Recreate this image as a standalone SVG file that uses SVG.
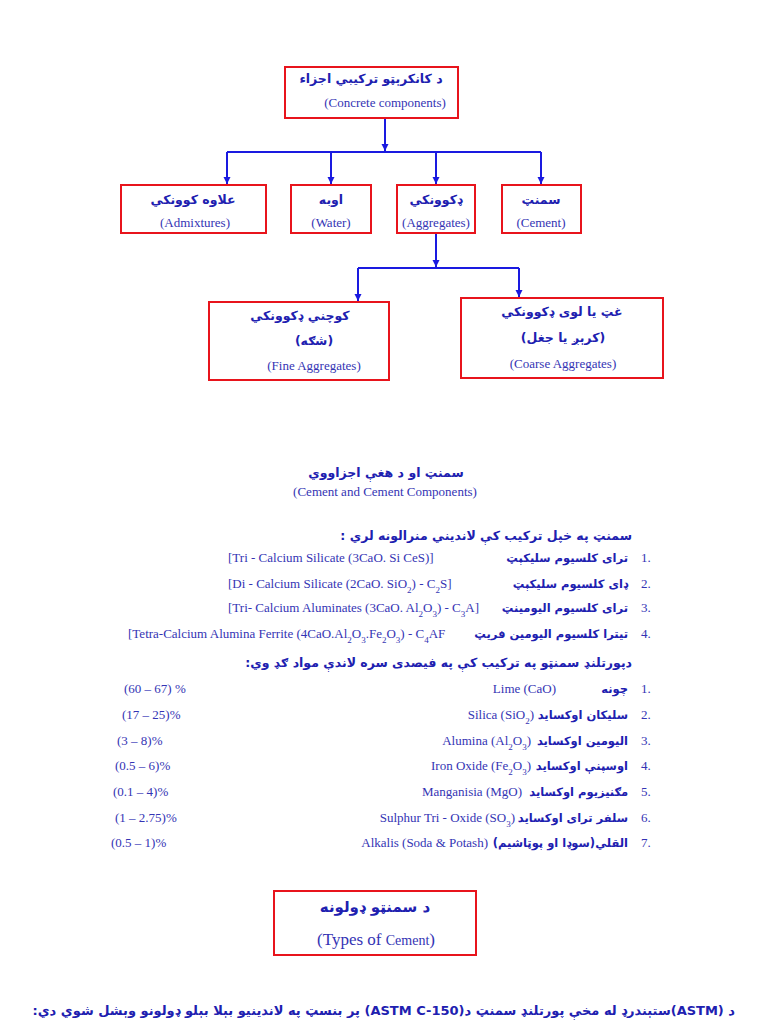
<svg xmlns="http://www.w3.org/2000/svg" width="768" height="1024" viewBox="0 0 768 1024">
<style>
.box{fill:#fff;stroke:#e8141c;stroke-width:2}
.con{fill:none;stroke:#1a1ae0;stroke-width:2}
.en{font-family:"Liberation Serif","Times New Roman",serif;font-size:13px;fill:#3434b4}
.ps{font-family:"DejaVu Sans",sans-serif;font-size:12.5px;font-weight:bold;fill:#2020b0}
.li{font-size:11.5px}
.c{text-anchor:middle}
.e{text-anchor:end}
.r{direction:rtl;unicode-bidi:embed;text-anchor:start}
.sub{font-size:9px;baseline-shift:sub}
</style>
<defs>
<marker id="ah" markerWidth="8" markerHeight="8" refX="7" refY="4" orient="auto" markerUnits="userSpaceOnUse">
<path d="M0,0.5 L7,4 L0,7.5 z" fill="#1a1ae0"/>
</marker>
</defs>
<rect width="768" height="1024" fill="#fff"/>

<g id="connectors">
<path class="con" d="M385,119 V151" marker-end="url(#ah)"/>
<path class="con" d="M227,152 H541"/>
<path class="con" d="M227,152 V184" marker-end="url(#ah)"/>
<path class="con" d="M331,152 V184" marker-end="url(#ah)"/>
<path class="con" d="M436,152 V184" marker-end="url(#ah)"/>
<path class="con" d="M541,152 V184" marker-end="url(#ah)"/>
<path class="con" d="M436,234 V267" marker-end="url(#ah)"/>
<path class="con" d="M358,268 H519"/>
<path class="con" d="M358,268 V301" marker-end="url(#ah)"/>
<path class="con" d="M519,268 V297" marker-end="url(#ah)"/>
</g>

<g id="concrete">
<rect class="box" x="285" y="67" width="173" height="51"/>
<text class="ps c" x="371" y="83">د کانکرېټو ترکیبي اجزاء</text>
<text class="en c" x="385" y="107">(Concrete components)</text>
</g>

<g id="admixtures">
<rect class="box" x="121" y="185" width="145" height="48"/>
<text class="ps c" x="193" y="204">علاوه کوونکي</text>
<text class="en c" x="195" y="227">(Admixtures)</text>
</g>
<g id="water">
<rect class="box" x="291" y="185" width="80" height="48"/>
<text class="ps c" x="331" y="204">اوبه</text>
<text class="en c" x="331" y="227">(Water)</text>
</g>
<g id="aggregates">
<rect class="box" x="397" y="185" width="78" height="48"/>
<text class="ps c" x="436" y="204">ډکوونکي</text>
<text class="en c" x="436" y="227">(Aggregates)</text>
</g>
<g id="cement">
<rect class="box" x="502" y="185" width="79" height="48"/>
<text class="ps c" x="541" y="204">سمنټ</text>
<text class="en c" x="541" y="227">(Cement)</text>
</g>

<g id="fine">
<rect class="box" x="209" y="302" width="180" height="78"/>
<text class="ps c" x="300" y="320">کوچني ډکوونکي</text>
<text class="ps c" x="314" y="345" direction="rtl">(شګه)</text>
<text class="en c" x="314" y="370">(Fine Aggregates)</text>
</g>
<g id="coarse">
<rect class="box" x="461" y="298" width="202" height="80"/>
<text class="ps c" x="562" y="316">غټ یا لوی ډکوونکي</text>
<text class="ps c" x="563" y="342" direction="rtl">(کرېږ یا جغل)</text>
<text class="en c" x="563" y="368">(Coarse Aggregates)</text>
</g>

<g id="heading">
<text class="ps c" x="386" y="477">سمنټ او د هغې اجزاووي</text>
<text class="en c" x="385" y="496">(Cement and Cement Components)</text>
</g>

<g id="list1">
<text class="ps r" x="632" y="540">سمنټ په خپل ترکیب کې لاندیني منرالونه لري :</text>
<text class="en" x="641" y="562">1.</text>
<text class="ps li r" x="628" y="562">ترای کلسیوم سلیکېټ</text>
<text class="en" x="228" y="562">[Tri - Calcium Silicate (3CaO. Si CeS)]</text>
<text class="en" x="641" y="588">2.</text>
<text class="ps li r" x="628" y="588">ډای کلسیوم سلیکېټ</text>
<text class="en" x="228" y="588">[Di - Calcium Silicate (2CaO. SiO<tspan class="sub">2</tspan>) - C<tspan class="sub">2</tspan>S]</text>
<text class="en" x="641" y="612">3.</text>
<text class="ps li r" x="628" y="612">ترای کلسیوم الیومینټ</text>
<text class="en" x="228" y="612">[Tri- Calcium Aluminates (3CaO. Al<tspan class="sub">2</tspan>O<tspan class="sub">3</tspan>) - C<tspan class="sub">3</tspan>A]</text>
<text class="en" x="641" y="638">4.</text>
<text class="ps li r" x="628" y="638">تیترا کلسیوم الیومین فریټ</text>
<text class="en" x="128" y="638">[Tetra-Calcium Alumina Ferrite (4CaO.Al<tspan class="sub">2</tspan>O<tspan class="sub">3</tspan>.Fe<tspan class="sub">2</tspan>O<tspan class="sub">3</tspan>) - C<tspan class="sub">4</tspan>AF</text>
</g>

<g id="list2">
<text class="ps r" x="632" y="667">دپورتلنډ سمنټو په ترکیب کې په فیصدی سره لاندې مواد ګډ وي:</text>
<text class="en" x="641" y="693">1.</text>
<text class="ps li r" x="628" y="693">چونه</text>
<text class="en e" x="556" y="693">Lime (CaO)</text>
<text class="en" x="124" y="693">(60 – 67) %</text>
<text class="en" x="641" y="719">2.</text>
<text class="ps li r" x="628" y="719">سلیکان اوکساید</text>
<text class="en e" x="534" y="719">Silica (SiO<tspan class="sub">2</tspan>)</text>
<text class="en" x="122" y="719">(17 – 25)%</text>
<text class="en" x="641" y="745">3.</text>
<text class="ps li r" x="628" y="745">الیومین اوکساید</text>
<text class="en e" x="531" y="745">Alumina (Al<tspan class="sub">2</tspan>O<tspan class="sub">3</tspan>)</text>
<text class="en" x="117" y="745">(3 – 8)%</text>
<text class="en" x="641" y="770">4.</text>
<text class="ps li r" x="628" y="770">اوسپنې اوکساید</text>
<text class="en e" x="531" y="770">Iron Oxide (Fe<tspan class="sub">2</tspan>O<tspan class="sub">3</tspan>)</text>
<text class="en" x="115" y="770">(0.5 – 6)%</text>
<text class="en" x="641" y="796">5.</text>
<text class="ps li r" x="628" y="796">مګنیزیوم اوکساید</text>
<text class="en e" x="522" y="796">Manganisia (MgO)</text>
<text class="en" x="113" y="796">(0.1 – 4)%</text>
<text class="en" x="641" y="822">6.</text>
<text class="ps li r" x="628" y="822">سلفر ترای اوکساید</text>
<text class="en e" x="515" y="822">Sulphur Tri - Oxide (SO<tspan class="sub">3</tspan>)</text>
<text class="en" x="115" y="822">(1 – 2.75)%</text>
<text class="en" x="641" y="847">7.</text>
<text class="ps li r" x="628" y="847">القلي(سوډا او پوټاشیم)</text>
<text class="en e" x="488" y="847">Alkalis (Soda &amp; Potash)</text>
<text class="en" x="111" y="847">(0.5 – 1)%</text>
</g>

<g id="types">
<rect class="box" x="274" y="891" width="202" height="64"/>
<text class="ps c" x="375" y="912" style="font-size:15px">د سمنټو ډولونه</text>
<text class="en c" x="376" y="945" style="font-size:17px">(Types of <tspan style="font-size:14px">Cement</tspan>)</text>
</g>

<text class="ps r" x="735" y="1015" style="font-size:13px">د  (ASTM)ستېندرډ له مخې پورتلنډ سمنټ د(ASTM C-150) پر بنسټ په لاندینیو بېلا بېلو ډولونو وېشل شوي دي:</text>
</svg>
